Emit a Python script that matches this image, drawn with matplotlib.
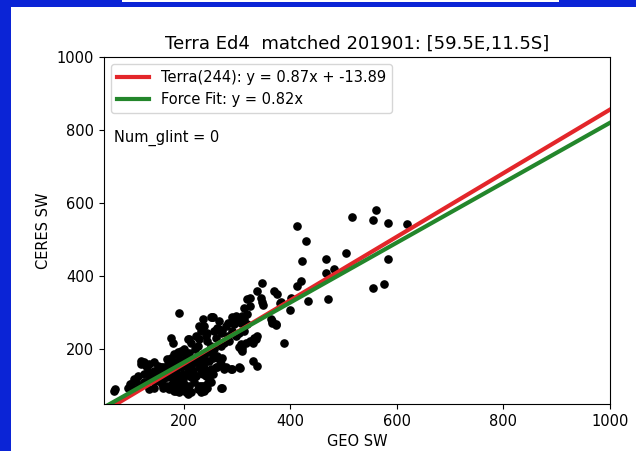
import numpy as np
import matplotlib
matplotlib.use('Agg')
import matplotlib.pyplot as plt
from matplotlib.patches import Rectangle

# matched GEO / CERES SW pairs
geo_sw = [
    413, 430, 421, 467, 466, 481, 504, 515, 555, 561, 583, 618, 584, 555, 576,
    471, 433, 419, 413, 399, 402, 388, 380, 373, 365, 370, 374, 347, 338, 344,
    347, 337, 329, 329, 337, 325, 325, 348, 382, 363, 366, 372, 332, 335, 325,
    319, 313, 319, 310, 316, 310, 307, 291, 297, 300, 282, 279, 272, 263, 257,
    254, 266, 294, 307, 313, 319, 313, 304, 297, 291, 282, 285, 276, 269, 307,
    304, 310, 260, 235, 238, 232, 241, 244, 251, 247, 257, 266, 272, 279, 291,
    304, 238, 235, 241, 254, 247, 244, 235, 241, 238, 272, 305, 288, 263, 232,
    244, 252, 266,
    191, 229, 244, 251, 263, 269, 176, 179, 207, 213, 222, 226, 210, 229,
    120, 126, 135, 144, 151, 157, 169, 176, 182, 188, 194, 201, 204, 191, 185,
    179, 169, 163, 154, 144, 132, 126, 113, 107, 101, 95, 104, 116, 126, 135,
    144, 154, 160, 169, 179, 188, 198, 207, 213, 219, 226, 232, 238, 244, 257,
    263, 213, 222, 232, 241, 251, 260, 269, 275, 201, 210, 219, 229, 241, 251,
    269, 135, 144, 160, 172, 182, 191, 207, 226, 232, 70, 68, 98, 110, 119,
    129, 151, 213, 204, 185,
    165, 175, 185, 195, 205, 215, 225, 160, 170, 180, 190, 200, 210, 220, 148,
    138, 158, 168, 178, 188, 198, 208, 218, 228, 238, 248, 255, 196, 186, 176,
]
ceres_sw = [
    537, 496, 441, 446, 410, 419, 464, 561, 555, 581, 546, 542, 448, 367, 378,
    337, 333, 387, 373, 307, 341, 216, 326, 266, 277, 359, 350, 382, 359, 341,
    328, 236, 218, 168, 154, 318, 340, 321, 328, 282, 273, 268, 232, 227, 223,
    338, 314, 296, 291, 218, 204, 200, 287, 291, 277, 273, 264, 250, 259, 250,
    287, 277, 268, 273, 282, 268, 250, 245, 236, 250, 236, 223, 218, 209, 214,
    205, 195, 232, 282, 264, 250, 236, 223, 209, 191, 182, 173, 177, 150, 147,
    150, 145, 132, 127, 132, 118, 104, 100, 95, 86, 95, 148, 145, 150, 100,
    95, 287, 255,
    298, 264, 245, 287, 255, 245, 232, 218, 227, 218, 236, 209, 227, 227,
    168, 164, 159, 164, 154, 150, 173, 177, 186, 191, 195, 191, 177, 168, 159,
    150, 145, 141, 136, 141, 141, 132, 127, 118, 104, 95, 91, 100, 109, 118,
    113, 113, 118, 123, 118, 127, 132, 145, 154, 164, 168, 182, 177, 191, 200,
    182, 123, 127, 136, 141, 145, 150, 159, 145, 104, 100, 109, 100, 95, 109,
    95, 91, 95, 95, 91, 86, 82, 77, 91, 82, 91, 86, 104, 113, 159,
    154, 132, 82, 82, 86,
    128, 135, 140, 150, 160, 170, 180, 150, 160, 165, 180, 200, 190, 200, 125,
    130, 105, 100, 105, 110, 118, 130, 140, 150, 160, 168, 175, 100, 96, 100,
]

n_match = 244
slope, intercept = 0.87, -13.89
force_slope = 0.82
num_glint = 0

fig = plt.figure(figsize=(6.36, 4.51), dpi=100, facecolor='#0b24d6')
# white page inside the blue frame (drawn behind the axes)
fig.patches.append(Rectangle((11 / 636, 0), 1, 444 / 451, transform=fig.transFigure,
                             facecolor='white', edgecolor='none', zorder=-1))
fig.patches.append(Rectangle((122 / 636, 449 / 451), 437 / 636, 2 / 451, transform=fig.transFigure,
                             facecolor='white', edgecolor='none', zorder=-1))

ax = fig.add_axes([104 / 636, 47 / 451, 506 / 636, 347 / 451])

ax.scatter(geo_sw, ceres_sw, s=27, c='black', zorder=3)

xfit = np.linspace(0, 1000, 2)
ax.plot(xfit, slope * xfit + intercept, color='#e3262a', lw=3,
        label='Terra(%d): y = %.2fx + %.2f' % (n_match, slope, intercept), zorder=4)
ax.plot(xfit, force_slope * xfit, color='#23862b', lw=3,
        label='Force Fit: y = %.2fx' % force_slope, zorder=5)

ax.set_xlim(50, 1000)
ax.set_ylim(50, 1000)
ax.set_xticks([200, 400, 600, 800, 1000])
ax.set_yticks([200, 400, 600, 800, 1000])
ax.tick_params(labelsize=10.5)

ax.set_title('Terra Ed4  matched 201901: [59.5E,11.5S]', fontsize=13)
ax.set_xlabel('GEO SW', fontsize=10.5)
ax.set_ylabel('CERES SW', fontsize=10.5)

ax.legend(loc='upper left', fontsize=10.5, handlelength=2.2)
ax.text(0.02, 0.767, 'Num_glint = %d' % num_glint, transform=ax.transAxes,
        fontsize=10.5, va='center')

plt.savefig('out.png', dpi=100, facecolor=fig.get_facecolor())
